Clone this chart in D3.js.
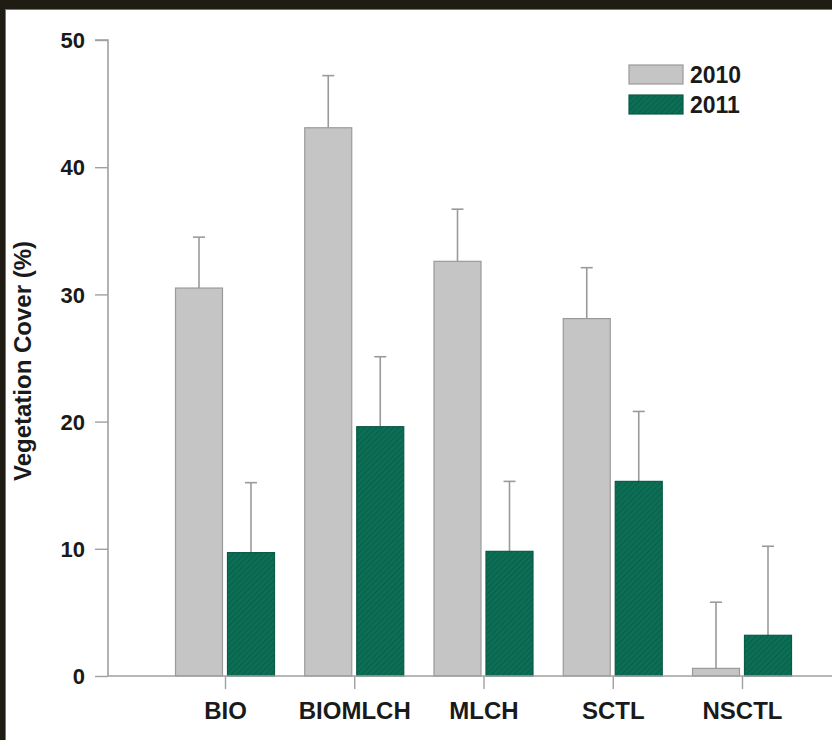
<!DOCTYPE html>
<html>
<head>
<meta charset="utf-8">
<script src="https://cdn.jsdelivr.net/npm/d3@7"></script>
<style>
  html, body { margin: 0; padding: 0; background: #ffffff; }
  svg { display: block; }
  text { font-family: "Liberation Sans", Arial, sans-serif; font-weight: bold; fill: #1a1a1a; }
</style>
</head>
<body>
<svg id="chart" width="832" height="740"></svg>
<script>
// Vegetation cover by treatment, two survey years
const categories = ["BIO", "BIOMLCH", "MLCH", "SCTL", "NSCTL"];
const years = ["2010", "2011"];
const cover2010 = [30.5, 43.1, 32.6, 28.1, 0.6];
const err2010 = [4.0, 4.1, 4.1, 4.0, 5.2];
const cover2011 = [9.7, 19.6, 9.8, 15.3, 3.2];
const err2011 = [5.5, 5.5, 5.5, 5.5, 7.0];
const yTicks = [0, 10, 20, 30, 40, 50];

const svg = d3.select("#chart");
const W = 832, H = 740;

// dark outer frame
svg.append("rect").attr("x", 0).attr("y", 0).attr("width", W).attr("height", H).attr("fill", "#1f1c13");
svg.append("rect").attr("x", 5).attr("y", 9).attr("width", W - 5).attr("height", H - 9).attr("fill", "#ffffff");
svg.append("line").attr("x1", 5).attr("x2", W).attr("y1", 9.5).attr("y2", 9.5).attr("stroke", "#777").attr("stroke-width", 1);
svg.append("line").attr("x1", 5.5).attr("x2", 5.5).attr("y1", 9).attr("y2", H).attr("stroke", "#777").attr("stroke-width", 1);

// hatch for 2011 bars
const defs = svg.append("defs");
const pat = defs.append("pattern").attr("id", "hatch").attr("patternUnits", "userSpaceOnUse")
  .attr("width", 4).attr("height", 4).attr("patternTransform", "rotate(45)");
pat.append("rect").attr("width", 4).attr("height", 4).attr("fill", "#0c6f55");
pat.append("line").attr("x1", 0).attr("y1", 0).attr("x2", 0).attr("y2", 4).attr("stroke", "#085a45").attr("stroke-width", 1.5);

const x0 = 108, x1 = 832;
const y = d3.scaleLinear().domain([0, 50]).range([676, 40]);
const xc = d3.scalePoint().domain(categories).range([225, 742]);
const barW = 47;
const gap = 2.5;

const data = categories.map((c, i) => ({
  c,
  vals: [
    { year: "2010", v: cover2010[i], e: err2010[i] },
    { year: "2011", v: cover2011[i], e: err2011[i] }
  ]
}));

const fills = { "2010": "#c5c5c5", "2011": "url(#hatch)" };
const strokes = { "2010": "#9a9a9a", "2011": "#0a5a45" };

const g = svg.append("g");

// error bars (upward only), drawn beneath bars
data.forEach(d => {
  d.vals.forEach((b, j) => {
    const cx = j === 0 ? xc(d.c) - gap - barW / 2 : xc(d.c) + gap + barW / 2;
    g.append("line").attr("x1", cx).attr("x2", cx)
      .attr("y1", y(b.v)).attr("y2", y(b.v + b.e))
      .attr("stroke", "#9a9a9a").attr("stroke-width", 1.6);
    g.append("line").attr("x1", cx - 6).attr("x2", cx + 6)
      .attr("y1", y(b.v + b.e)).attr("y2", y(b.v + b.e))
      .attr("stroke", "#9a9a9a").attr("stroke-width", 1.6);
  });
});

// bars
data.forEach(d => {
  d.vals.forEach((b, j) => {
    const bx = j === 0 ? xc(d.c) - gap - barW : xc(d.c) + gap;
    g.append("rect").attr("x", bx).attr("y", y(b.v)).attr("width", barW)
      .attr("height", y(0) - y(b.v))
      .attr("fill", fills[b.year]).attr("stroke", strokes[b.year]).attr("stroke-width", 1.2);
  });
});

// y axis
const yAxis = d3.axisLeft(y).tickValues(yTicks).tickSize(13).tickPadding(10).tickFormat(d3.format("d"));
const ya = svg.append("g").attr("transform", `translate(${x0},0)`).call(yAxis);
ya.select(".domain").attr("stroke", "#a0a0a0").attr("stroke-width", 1.6).attr("d", `M-13,${y(50)}H0V${y(0)}`);
ya.selectAll(".tick line").attr("stroke", "#a0a0a0").attr("stroke-width", 1.4);
ya.selectAll(".tick text").attr("font-size", 22).attr("fill", "#1a1a1a").attr("dy", "0.35em");

// baseline and category ticks
svg.append("line").attr("x1", x0).attr("x2", x1).attr("y1", y(0)).attr("y2", y(0))
  .attr("stroke", "#a0a0a0").attr("stroke-width", 1.6);
const xAxis = d3.axisBottom(xc).tickSize(13).tickPadding(13);
const xa = svg.append("g").attr("transform", `translate(0,${y(0)})`).call(xAxis);
xa.select(".domain").remove();
xa.selectAll(".tick line").attr("stroke", "#a0a0a0").attr("stroke-width", 1.4);
xa.selectAll(".tick text").attr("font-size", 24).attr("fill", "#1a1a1a");

// y axis title
svg.append("text").attr("transform", `translate(31,${(y(0) + y(50)) / 2 + 3}) rotate(-90)`)
  .attr("text-anchor", "middle").attr("font-size", 24).text("Vegetation Cover (%)");

// legend
const leg = svg.append("g").attr("transform", "translate(629,65)");
years.forEach((yr, i) => {
  leg.append("rect").attr("x", 0).attr("y", i * 30).attr("width", 54).attr("height", 19)
    .attr("fill", fills[yr]).attr("stroke", strokes[yr]).attr("stroke-width", 1.2);
  leg.append("text").attr("x", 61).attr("y", i * 30 + 10).attr("dy", "0.36em")
    .attr("font-size", 23).text(yr);
});
</script>
</body>
</html>
